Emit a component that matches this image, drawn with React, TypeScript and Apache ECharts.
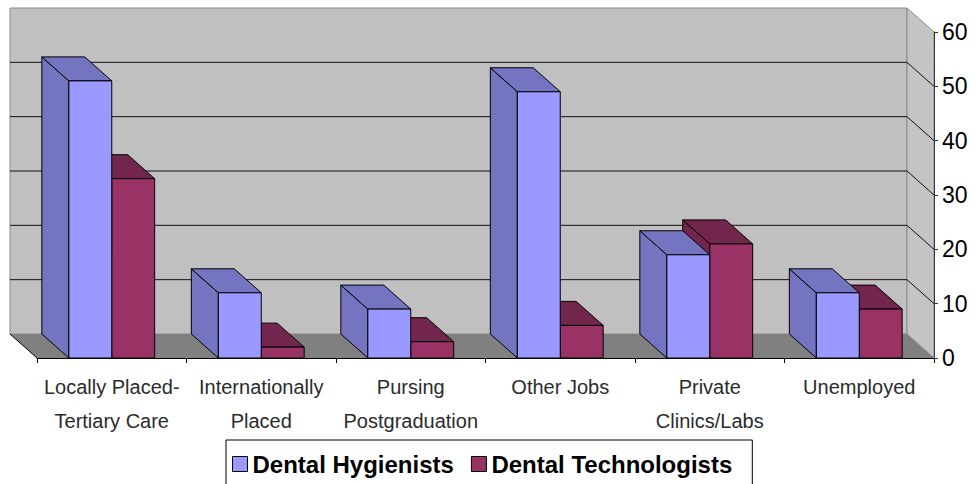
import React, { useEffect, useRef } from "react";
import * as echarts from "echarts";

const categories = [
  "Locally Placed-\nTertiary Care",
  "Internationally\nPlaced",
  "Pursing\nPostgraduation",
  "Other Jobs",
  "Private\nClinics/Labs",
  "Unemployed",
];
const hygienists = [51, 12, 9, 49, 19, 12];
const technologists = [33, 2, 3, 6, 21, 9];
const yTicks = [0, 10, 20, 30, 40, 50, 60];
const seriesNames = ["Dental Hygienists", "Dental Technologists"];

const DX = -27;
const DY = -24;
const BAR_FRAC = 0.287;

const HYG_FRONT = "#9999FF";
const HYG_DARK = "#7474C0";
const TECH_FRONT = "#993366";
const TECH_DARK = "#73264D";

function makeBarRender(isHyg: boolean) {
  const front = isHyg ? HYG_FRONT : TECH_FRONT;
  const dark = isHyg ? HYG_DARK : TECH_DARK;
  return (params: any, api: any) => {
    const xi = api.value(0);
    const v = api.value(1);
    const top = api.coord([xi, v]);
    const base = api.coord([xi, 0]);
    const bw = api.size([1, 0])[0];
    const w = bw * BAR_FRAC;
    const x0 = isHyg ? top[0] - w : top[0];
    const yT = top[1];
    const yB = base[1];
    const stroke = { stroke: "#000", lineWidth: 1 };
    return {
      type: "group",
      children: [
        {
          type: "polygon",
          shape: {
            points: [
              [x0, yT],
              [x0 + DX, yT + DY],
              [x0 + DX, yB + DY],
              [x0, yB],
            ],
          },
          style: { fill: dark, ...stroke },
        },
        {
          type: "polygon",
          shape: {
            points: [
              [x0, yT],
              [x0 + w, yT],
              [x0 + w + DX, yT + DY],
              [x0 + DX, yT + DY],
            ],
          },
          style: { fill: dark, ...stroke },
        },
        {
          type: "rect",
          shape: { x: x0, y: yT, width: w, height: yB - yT },
          style: { fill: front, ...stroke },
        },
      ],
    };
  };
}

function renderWalls(params: any, api: any) {
  const cs = params.coordSys;
  const gx = cs.x;
  const gw = cs.width;
  const y0 = api.coord([0, yTicks[0]])[1];
  const yMax = api.coord([0, yTicks[yTicks.length - 1]])[1];
  const children: any[] = [];
  children.push({
    type: "rect",
    shape: { x: gx + DX, y: yMax + DY, width: gw, height: y0 - yMax },
    style: { fill: "#C0C0C0", stroke: "#8c8c8c", lineWidth: 1 },
  });
  children.push({
    type: "polygon",
    shape: {
      points: [
        [gx + gw + DX, yMax + DY],
        [gx + gw, yMax],
        [gx + gw, y0],
        [gx + gw + DX, y0 + DY],
      ],
    },
    style: { fill: "#C4C4C4", stroke: "#8c8c8c", lineWidth: 1 },
  });
  children.push({
    type: "polygon",
    shape: {
      points: [
        [gx + DX, y0 + DY],
        [gx + gw + DX, y0 + DY],
        [gx + gw, y0],
        [gx, y0],
      ],
    },
    style: { fill: "#808080" },
  });
  children.push({
    type: "line",
    shape: { x1: gx + DX, y1: y0 + DY, x2: gx, y2: y0 },
    style: { stroke: "#000", lineWidth: 1 },
  });
  yTicks.slice(1, yTicks.length - 1).forEach((t) => {
    const y = api.coord([0, t])[1];
    children.push({
      type: "polyline",
      shape: {
        points: [
          [gx + DX, y + DY],
          [gx + gw + DX, y + DY],
          [gx + gw, y],
        ],
      },
      style: { stroke: "#111", lineWidth: 1, fill: null },
    });
  });
  return { type: "group", children };
}

export default function App() {
  const ref = useRef<HTMLDivElement>(null);
  useEffect(() => {
    if (!ref.current) return;
    const chart = echarts.init(ref.current, null, { renderer: "svg" });
    chart.setOption({
      animation: false,
      backgroundColor: "#ffffff",
      grid: { left: 37, right: 44, top: 32, bottom: 126 },
      legend: {
        data: [
          {
            name: seriesNames[0],
            icon: "rect",
            itemStyle: { color: HYG_FRONT, borderColor: "#000", borderWidth: 1 },
          },
          {
            name: seriesNames[1],
            icon: "rect",
            itemStyle: { color: TECH_FRONT, borderColor: "#000", borderWidth: 1 },
          },
        ],
        left: 226,
        top: 440,
        orient: "horizontal",
        itemWidth: 15,
        itemHeight: 15,
        itemGap: 17,
        padding: [12, 20, 24, 6],
        borderColor: "#000",
        borderWidth: 1,
        selectedMode: false,
        textStyle: {
          fontFamily: "Liberation Sans, Arial, sans-serif",
          fontSize: 24,
          fontWeight: "bold",
          color: "#000",
          lineHeight: 18,
        },
      },
      xAxis: {
        type: "category",
        data: categories,
        z: 10,
        axisLine: { show: true, lineStyle: { color: "#000", width: 1 } },
        axisTick: { show: true, length: 5, lineStyle: { color: "#000" } },
        axisLabel: {
          interval: 0,
          margin: 12,
          fontFamily: "Liberation Sans, Arial, sans-serif",
          fontSize: 20,
          lineHeight: 34,
          color: "#2b2b2b",
        },
        splitLine: { show: false },
      },
      yAxis: {
        type: "value",
        position: "right",
        min: 0,
        max: 60,
        interval: 10,
        z: 10,
        axisLine: { show: true, lineStyle: { color: "#333", width: 1 } },
        axisTick: { show: true, length: 4, lineStyle: { color: "#333" } },
        axisLabel: {
          margin: 8,
          fontFamily: "Liberation Sans, Arial, sans-serif",
          fontSize: 23,
          color: "#000",
        },
        splitLine: { show: false },
      },
      series: [
        {
          type: "custom",
          name: "walls",
          silent: true,
          clip: false,
          z: 1,
          renderItem: renderWalls,
          data: [[0, 0]],
          encode: { x: 0, y: 1 },
        },
        {
          type: "custom",
          name: seriesNames[1],
          z: 2,
          clip: false,
          itemStyle: { color: TECH_FRONT, borderColor: "#000", borderWidth: 1 },
          renderItem: makeBarRender(false),
          data: technologists.map((v, i) => [i, v]),
          encode: { x: 0, y: 1 },
        },
        {
          type: "custom",
          name: seriesNames[0],
          z: 3,
          clip: false,
          itemStyle: { color: HYG_FRONT, borderColor: "#000", borderWidth: 1 },
          renderItem: makeBarRender(true),
          data: hygienists.map((v, i) => [i, v]),
          encode: { x: 0, y: 1 },
        },
      ],
    });
    return () => chart.dispose();
  }, []);
  return (
    <div
      ref={ref}
      style={{ position: "absolute", left: 0, top: 0, width: 978, height: 484 }}
    />
  );
}
